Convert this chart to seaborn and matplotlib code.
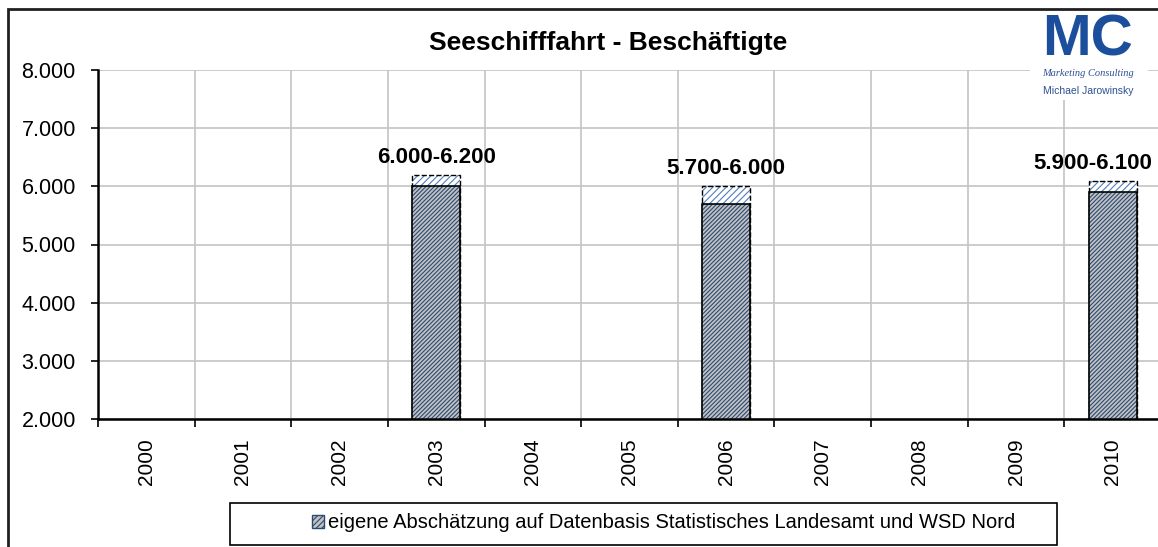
import numpy as np
import pandas as pd
import matplotlib
matplotlib.use("Agg")
import matplotlib.pyplot as plt
import matplotlib.patches as mpatches
from matplotlib.ticker import FuncFormatter, FixedLocator
import seaborn as sns

# ==========================================
# Data
# ==========================================
all_years = ["2000", "2001", "2002", "2003", "2004", "2005",
             "2006", "2007", "2008", "2009", "2010"]
data_years = ["2003", "2006", "2010"]
low_values = [6000, 5700, 5900]
high_values = [6200, 6000, 6100]

title = "Seeschifffahrt - Beschäftigte"
legend_label = "eigene Abschätzung auf Datenbasis Statistisches Landesamt und WSD Nord"

df = pd.DataFrame({"year": data_years, "low": low_values, "high": high_values})


def de_fmt(v):
    return f"{v:,.0f}".replace(",", ".")


# ==========================================
# Style
# ==========================================
sns.set_style("white")
plt.rcParams["font.family"] = ["Liberation Sans", "DejaVu Sans"]
plt.rcParams["text.color"] = "black"
plt.rcParams["xtick.color"] = "black"
plt.rcParams["ytick.color"] = "black"
plt.rcParams["hatch.linewidth"] = 0.8

fig = plt.figure(figsize=(11.58, 5.47), dpi=100)
ax = fig.add_axes([98 / 1158, 128 / 547, 1063 / 1158, 349 / 547])

# upper range (white, hatched, dashed outline)
sns.barplot(data=df, x="year", y="high", order=all_years, ax=ax, width=0.5,
            color="white", saturation=1, edgecolor="#4f7fb8", hatch="/////",
            linewidth=0, zorder=3)
sns.barplot(data=df, x="year", y="high", order=all_years, ax=ax, width=0.5,
            fill=False, saturation=1, edgecolor="black", linewidth=1.0,
            linestyle="--", zorder=4)
upper_container = ax.containers[-1]

# lower value (grey, dense navy hatch, solid outline)
sns.barplot(data=df, x="year", y="low", order=all_years, ax=ax, width=0.5,
            color="#c2c2c2", saturation=1, edgecolor="#2a4a74", hatch="////////",
            linewidth=0, zorder=5)
sns.barplot(data=df, x="year", y="low", order=all_years, ax=ax, width=0.5,
            fill=False, saturation=1, edgecolor="black", linewidth=1.2, zorder=6)

# range labels
labels = [f"{de_fmt(lo)}-{de_fmt(hi)}" for lo, hi in zip(low_values, high_values)]
texts = ax.bar_label(upper_container, labels=labels, padding=5, fontsize=16,
                     fontweight="bold", zorder=7)
# last label pulled left so it stays inside the chart area (as in Excel)
texts[-1].xyann = (-14, 5)

# ==========================================
# Axes
# ==========================================
ax.set_xlim(-0.5, len(all_years) - 0.5)
ax.set_ylim(2000, 8000)
ax.set_yticks(np.arange(2000, 8001, 1000))
ax.yaxis.set_major_formatter(FuncFormatter(lambda v, p: de_fmt(v)))
ax.set_xlabel("")
ax.set_ylabel("")

ax.xaxis.set_minor_locator(FixedLocator(np.arange(-0.5, len(all_years), 1)))
ax.tick_params(axis="x", which="major", length=0, pad=14, labelsize=15,
               labelrotation=90)
ax.tick_params(axis="x", which="minor", length=6, width=1.2, direction="out",
               color="black", bottom=True)
ax.tick_params(axis="y", which="major", length=5, width=1.2, direction="out",
               color="black", pad=11, labelsize=15.5, left=True)

ax.grid(True, axis="y", which="major", color="#c4c4c4", linewidth=1.2, zorder=0)
ax.grid(True, axis="x", which="minor", color="#c4c4c4", linewidth=1.2, zorder=0)
ax.grid(False, axis="x", which="major")
ax.set_axisbelow(True)

for side in ["top", "right"]:
    ax.spines[side].set_visible(False)
for side in ["left", "bottom"]:
    ax.spines[side].set_color("black")
    ax.spines[side].set_linewidth(1.8)
    ax.spines[side].set_zorder(8)

# title
fig.text(608 / 1158, 1 - 43 / 547, title, ha="center", va="center",
         fontsize=19, fontweight="bold")

# outer chart frame
fig.patches.append(mpatches.Rectangle((8 / 1158, -0.1), 1.2, 1.1 - 9 / 547,
                                      transform=fig.transFigure, fill=False,
                                      edgecolor="#202020", linewidth=2))

# legend box and entry
fig.patches.append(mpatches.Rectangle((230 / 1158, 2 / 547), 827 / 1158, 42 / 547,
                                      transform=fig.transFigure, fill=False,
                                      edgecolor="black", linewidth=1.2))
handle = mpatches.Patch(facecolor="#c2c2c2", edgecolor="#2a4a74", hatch="//////",
                        linewidth=1)
fig.legend(handles=[handle], labels=[legend_label], loc="center",
           bbox_to_anchor=(664 / 1158, 1 - 523 / 547), frameon=False,
           fontsize=14.5, handlelength=0.6, handleheight=0.6, handletextpad=0.2)

# logo
fig.patches.append(mpatches.Rectangle((1030 / 1158, 1 - 100 / 547), 118 / 1158, 88 / 547,
                                      transform=fig.transFigure, facecolor="white",
                                      edgecolor="none", zorder=10))
fig.text(1088 / 1158, 1 - 41 / 547, "MC", ha="center", va="center", fontsize=42,
         fontweight="bold", color="#1b4f9c", zorder=11)
fig.text(1088 / 1158, 1 - 74 / 547, "Marketing Consulting", ha="center", va="center",
         fontsize=7.5, style="italic", color="#2d4f95",
         family=["Liberation Serif", "DejaVu Serif"], zorder=11)
fig.text(1088 / 1158, 1 - 91 / 547, "Michael Jarowinsky", ha="center", va="center",
         fontsize=7.5, color="#2d4f95", zorder=11)

fig.savefig("out.png", dpi=100)
